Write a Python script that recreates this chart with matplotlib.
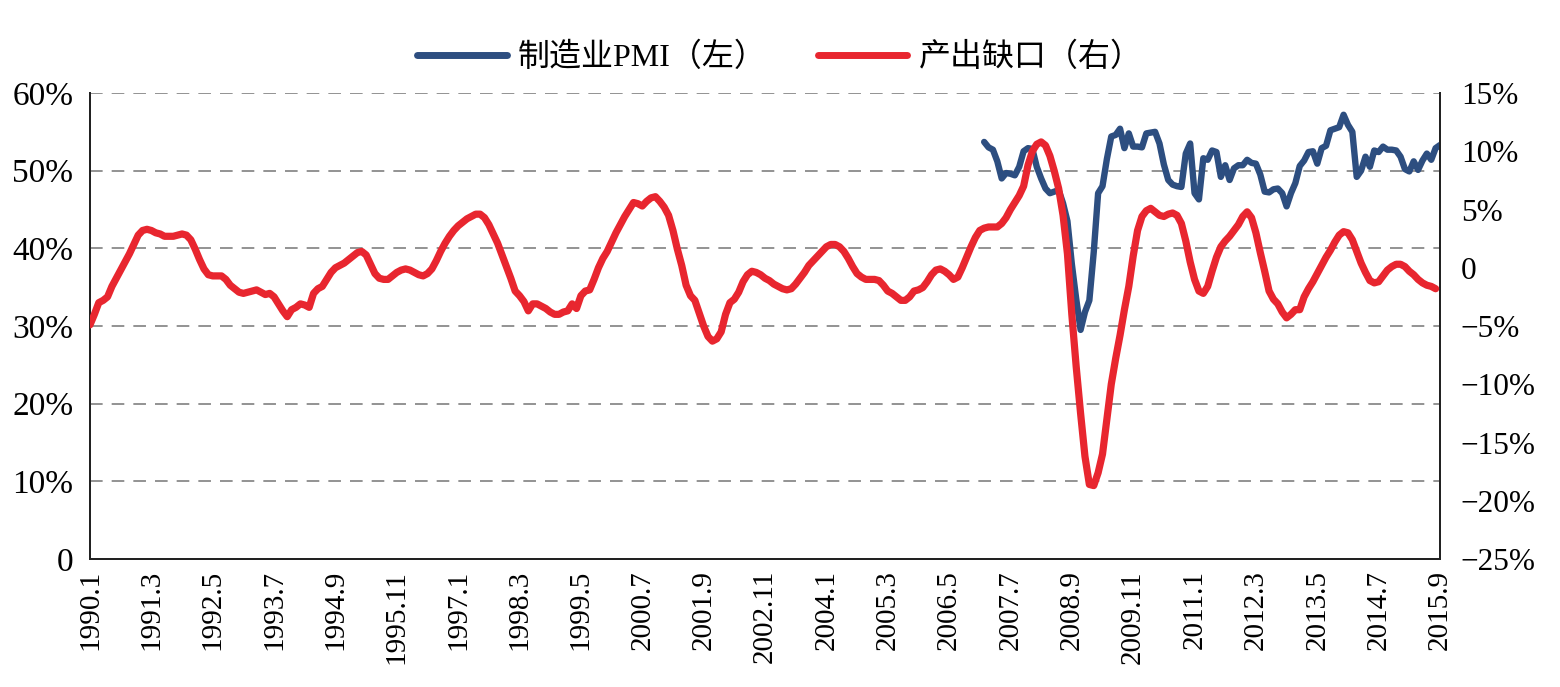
import matplotlib
matplotlib.use('Agg')
import matplotlib.pyplot as plt
from matplotlib.lines import Line2D

plt.rcParams['font.family'] = ['Liberation Serif', 'Noto Sans CJK SC', 'DejaVu Sans']

# ── 数据：1990.1 – 2015.9 月度 ───────────────────────────────
start_year, start_month = 1990, 1
n_months = 309

# 产出缺口（右轴，%），1990.1 起
output_gap = [
    -4.9, -4.0, -3.0, -2.8, -2.5, -1.6, -0.9, -0.2, 0.5, 1.2, 2.0, 2.8,
    3.2, 3.3, 3.2, 3.0, 2.9, 2.7, 2.7, 2.7, 2.8, 2.9, 2.8, 2.4,
    1.6, 0.7, -0.1, -0.6, -0.7, -0.7, -0.7, -1.0, -1.5, -1.8, -2.1, -2.2,
    -2.1, -2.0, -1.9, -2.1, -2.3, -2.2, -2.5, -3.1, -3.7, -4.2, -3.6, -3.4,
    -3.1, -3.2, -3.4, -2.2, -1.8, -1.6, -1.0, -0.4, 0.0, 0.2, 0.4, 0.7,
    1.0, 1.3, 1.4, 1.1, 0.3, -0.5, -0.9, -1.0, -1.0, -0.7, -0.4, -0.2,
    -0.1, -0.2, -0.4, -0.6, -0.7, -0.5, -0.1, 0.6, 1.4, 2.1, 2.7, 3.2,
    3.6, 3.9, 4.2, 4.4, 4.6, 4.6, 4.3, 3.7, 2.9, 2.1, 1.1, 0.1,
    -0.9, -2.0, -2.4, -2.9, -3.7, -3.1, -3.1, -3.3, -3.5, -3.8, -4.0, -4.0,
    -3.8, -3.7, -3.1, -3.5, -2.4, -2.0, -1.9, -1.0, 0.0, 0.8, 1.4, 2.2,
    3.0, 3.7, 4.4, 5.0, 5.6, 5.5, 5.3, 5.7, 6.0, 6.1, 5.7, 5.2,
    4.5, 3.2, 1.6, 0.2, -1.5, -2.4, -2.8, -3.9, -5.0, -5.9, -6.3, -6.1,
    -5.5, -4.0, -3.0, -2.7, -2.1, -1.2, -0.6, -0.3, -0.4, -0.6, -0.9, -1.1,
    -1.4, -1.6, -1.8, -1.9, -1.8, -1.4, -0.9, -0.4, 0.2, 0.6, 1.0, 1.4,
    1.8, 2.0, 2.0, 1.8, 1.4, 0.8, 0.1, -0.5, -0.8, -1.0, -1.0, -1.0,
    -1.1, -1.5, -2.0, -2.2, -2.5, -2.8, -2.8, -2.5, -2.0, -1.9, -1.7, -1.2,
    -0.6, -0.2, -0.1, -0.3, -0.6, -1.0, -0.8, 0.0, 0.9, 1.8, 2.6, 3.2,
    3.4, 3.5, 3.5, 3.5, 3.8, 4.3, 5.0, 5.6, 6.2, 7.0, 8.8, 10.0,
    10.6, 10.8, 10.5, 9.6, 8.3, 6.8, 4.5, 1.2, -4.0, -8.5, -12.5, -16.2,
    -18.6, -18.7, -17.6, -16.0, -13.0, -10.0, -7.8, -5.8, -3.6, -1.6, 1.0, 3.2,
    4.4, 4.9, 5.1, 4.8, 4.5, 4.4, 4.6, 4.7, 4.5, 3.8, 2.3, 0.5,
    -1.0, -2.0, -2.2, -1.6, -0.3, 0.9, 1.8, 2.3, 2.7, 3.2, 3.7, 4.4,
    4.8, 4.3, 3.0, 1.3, -0.3, -2.0, -2.7, -3.1, -3.8, -4.3, -4.0, -3.6,
    -3.6, -2.5, -1.8, -1.2, -0.5, 0.2, 0.9, 1.5, 2.2, 2.8, 3.1, 3.0,
    2.4, 1.4, 0.4, -0.4, -1.1, -1.3, -1.2, -0.7, -0.2, 0.1, 0.3, 0.3,
    0.1, -0.3, -0.6, -1.0, -1.3, -1.5, -1.6, -1.8,
]

# 制造业PMI（左轴，%），2007.1 起
pmi_start = 204
pmi = [
    53.7, 53.0, 52.7, 51.2, 49.0, 49.7, 49.6, 49.4, 50.5, 52.5, 52.9, 52.8,
    50.5, 49.0, 47.7, 47.1, 47.3, 47.5, 45.8, 43.5, 38.0, 33.5, 29.5, 31.8,
    33.3, 39.5, 47.1, 48.0, 51.5, 54.4, 54.6, 55.4, 52.9, 54.8, 53.1, 53.1,
    53.0, 54.8, 54.9, 55.0, 53.5, 50.8, 48.8, 48.2, 48.0, 47.9, 52.2, 53.5,
    47.1, 46.3, 51.6, 51.4, 52.6, 52.4, 49.2, 50.7, 48.8, 50.3, 50.7, 50.7,
    51.4, 51.0, 50.9, 49.5, 47.3, 47.2, 47.6, 47.7, 47.1, 45.4, 47.1, 48.4,
    50.6, 51.3, 52.4, 52.5, 50.9, 52.9, 53.2, 55.2, 55.4, 55.6, 57.2, 55.9,
    55.0, 49.2, 50.0, 51.8, 50.5, 52.6, 52.4, 53.1, 52.7, 52.7, 52.6, 51.8,
    50.2, 49.9, 51.2, 50.1, 51.3, 52.2, 51.4, 52.9, 53.3,
]

tick_step = 14
left_ticks = [0, 10, 20, 30, 40, 50, 60]
right_ticks = [-25, -20, -15, -10, -5, 0, 5, 10, 15]

blue = '#2d4e80'
red = '#e8262f'

labels = []
for k in range(n_months):
    m = start_month - 1 + k
    labels.append(f"{start_year + m // 12}.{m % 12 + 1}")

fig = plt.figure(figsize=(15.6, 6.87), dpi=100)
ax = fig.add_axes([90 / 1560, 1 - 559 / 687, 1350 / 1560, 466 / 687])
ax2 = ax.twinx()

x_pmi = list(range(pmi_start, pmi_start + len(pmi)))
x_gap = list(range(len(output_gap)))
ax.plot(x_pmi, pmi, color=blue, lw=4.6, solid_capstyle='round', zorder=3)
ax2.plot(x_gap, output_gap, color=red, lw=5.2, solid_capstyle='round', zorder=3)

ax.set_xlim(0, n_months - 1)
ax.set_ylim(0, 60)
ax2.set_ylim(-25, 15)

ax.set_yticks(left_ticks)
ax.set_yticklabels(['0' if v == 0 else f'{v}%' for v in left_ticks])
ax2.set_yticks(right_ticks)
ax2.set_yticklabels(['0' if v == 0 else f'{v}%'.replace('-', '\u2212') for v in right_ticks])

xt = list(range(0, n_months, tick_step))
ax.set_xticks(xt)
ax.set_xticklabels([labels[i] for i in xt], rotation=90)

for v in left_ticks[1:]:
    ax.axhline(v, color='#8a8a8a', lw=1.3, ls=(0, (7, 5)), zorder=1)

ax.tick_params(axis='y', length=0, labelsize=24, pad=12)
ax.tick_params(axis='x', length=0, labelsize=21, pad=8)
ax2.tick_params(axis='y', length=0, labelsize=22.5, pad=15)
for a in (ax, ax2):
    a.spines['top'].set_visible(False)
    for s in ('left', 'right', 'bottom'):
        a.spines[s].set_color('#222222')
        a.spines[s].set_linewidth(1.4)

handles = [Line2D([], [], color=blue, lw=5, solid_capstyle='round'),
           Line2D([], [], color=red, lw=5, solid_capstyle='round')]
fig.legend(handles, ['制造业PMI（左）', '产出缺口（右）'], loc='center',
           bbox_to_anchor=(0.5, 1 - 58 / 687), ncol=2, frameon=False,
           fontsize=23, handlelength=2.8, columnspacing=1.6, handletextpad=0.35)

fig.savefig('out.png', dpi=100)
